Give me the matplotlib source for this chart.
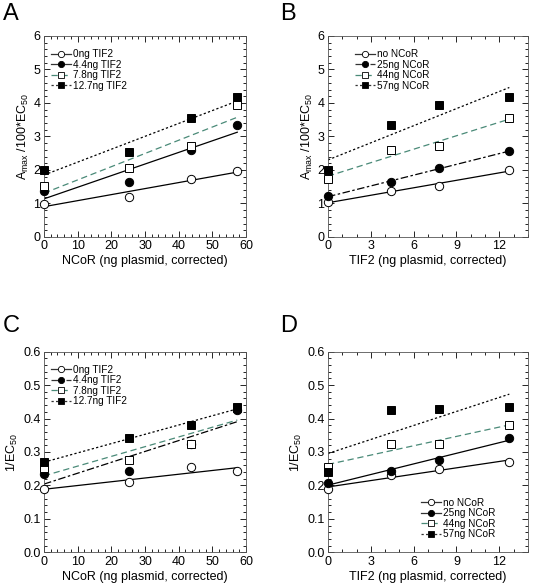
import matplotlib.pyplot as plt
import numpy as np
from matplotlib.ticker import MultipleLocator

plt.rcParams['font.family'] = ['Liberation Sans', 'DejaVu Sans']
plt.rcParams['mathtext.fontset'] = 'custom'
plt.rcParams['mathtext.rm'] = 'Liberation Sans'

# x positions (ng plasmid, corrected)
ncor_x = [0, 25.3, 43.6, 57.4]
tif_x = [0, 4.4, 7.8, 12.7]

# Panel A: Amax/100*EC50 vs NCoR
a_labels = ['0ng TIF2', '4.4ng TIF2', '7.8ng TIF2', '12.7ng TIF2']
a_0 = [0.99, 1.19, 1.73, 1.98]
a_44 = [1.36, 1.64, 2.60, 3.33]
a_78 = [1.53, 2.05, 2.71, 3.93]
a_127 = [2.00, 2.55, 3.54, 4.17]

# Panel B: Amax/100*EC50 vs TIF2
b_labels = ['no NCoR', '25ng NCoR', '44ng NCoR', '57ng NCoR']
b_0 = [1.03, 1.38, 1.53, 2.00]
b_25 = [1.21, 1.65, 2.06, 2.56]
b_44 = [1.74, 2.61, 2.71, 3.54]
b_57 = [1.99, 3.34, 3.94, 4.17]

# Panel C: 1/EC50 vs NCoR
c_0 = [0.189, 0.209, 0.254, 0.244]
c_44 = [0.233, 0.244, 0.324, 0.426]
c_78 = [0.251, 0.276, 0.324, 0.431]
c_127 = [0.271, 0.341, 0.382, 0.435]

# Panel D: 1/EC50 vs TIF2
d_0 = [0.189, 0.231, 0.249, 0.271]
d_25 = [0.206, 0.244, 0.276, 0.341]
d_44 = [0.254, 0.324, 0.324, 0.381]
d_57 = [0.241, 0.426, 0.429, 0.434]

green = '#4a8a78'
solid = '-'
dashdot = (0, (6, 2, 2, 2))
greendash = (0, (5, 3))
dotted = (0, (1.8, 1.8))

markers = [('o', 'white'), ('o', 'black'), ('s', 'white'), ('s', 'black')]


def panel(ax, x, series, labels, styles, colors, xmax, xticks, xminor,
          ymax, ystep, yminor, xlabel, ylabel, legend_loc, legend_anchor):
    handles = []
    for (y, lab, ls, col, (m, fc)) in zip(series, labels, styles, colors, markers):
        # linear regression line through the points
        p = np.polyfit(x, y, 1)
        xs = np.array([x[0], x[-1]])
        ax.plot(xs, np.polyval(p, xs), linestyle=ls, color=col, lw=0.9)
        ax.plot(x, y, linestyle='none', marker=m, mfc=fc, mec='black',
                mew=0.7, ms=6, clip_on=False, zorder=5)
        h, = ax.plot([], [], linestyle=ls, color=col if col != 'black' else '#333333',
                     lw=0.9, marker=m, mfc=fc, mec='black', mew=0.6, ms=4.5)
        handles.append(h)
    ax.set_xlim(0, xmax)
    ax.set_ylim(0, ymax)
    ax.set_xticks(xticks)
    ax.xaxis.set_minor_locator(MultipleLocator(xminor))
    ax.yaxis.set_major_locator(MultipleLocator(ystep))
    ax.yaxis.set_minor_locator(MultipleLocator(yminor))
    ax.tick_params(which='both', direction='in', top=True, right=True,
                   labelsize=9, width=0.6, pad=2.5)
    ax.tick_params(which='major', length=4)
    ax.tick_params(which='minor', length=2)
    for s in ax.spines.values():
        s.set_linewidth(0.6)
        s.set_color('#555555')
    ax.set_xlabel(xlabel, fontsize=9, labelpad=2)
    ax.set_ylabel(ylabel, fontsize=9, labelpad=2)
    ax.legend(handles, labels, loc=legend_loc, bbox_to_anchor=legend_anchor,
              frameon=False, fontsize=7.2, handlelength=2.0, handletextpad=0.2,
              labelspacing=0.05, borderpad=0.2)


fig = plt.figure(figsize=(5.33, 5.87), dpi=100)
axA = fig.add_axes([0.0826, 0.5963, 0.379, 0.3424])
axB = fig.add_axes([0.6154, 0.5963, 0.375, 0.3424])
axC = fig.add_axes([0.0826, 0.0591, 0.379, 0.3418])
axD = fig.add_axes([0.6154, 0.0591, 0.375, 0.3418])

amax_label = r'A$_{\rm max}$ /100*EC$_{50}$'
ec_label = r'1/EC$_{50}$'

panel(axA, ncor_x, [a_0, a_44, a_78, a_127], a_labels,
      [solid, solid, greendash, dotted], ['black', 'black', green, 'black'],
      60, [0, 10, 20, 30, 40, 50, 60], 2, 6, 1, 0.2,
      'NCoR (ng plasmid, corrected)', amax_label, 'upper left', (0.0, 0.97))
panel(axB, tif_x, [b_0, b_25, b_44, b_57], b_labels,
      [solid, dashdot, greendash, dotted], ['black', 'black', green, 'black'],
      14, [0, 3, 6, 9, 12], 1, 6, 1, 0.2,
      'TIF2 (ng plasmid, corrected)', amax_label, 'upper left', (0.1, 0.97))
panel(axC, ncor_x, [c_0, c_44, c_78, c_127], a_labels,
      [solid, dashdot, greendash, dotted], ['black', 'black', green, 'black'],
      60, [0, 10, 20, 30, 40, 50, 60], 2, 0.6, 0.1, 0.02,
      'NCoR (ng plasmid, corrected)', ec_label, 'upper left', (0.0, 0.97))
panel(axD, tif_x, [d_0, d_25, d_44, d_57], b_labels,
      [solid, solid, greendash, dotted], ['black', 'black', green, 'black'],
      14, [0, 3, 6, 9, 12], 1, 0.6, 0.1, 0.02,
      'TIF2 (ng plasmid, corrected)', ec_label, 'lower right', (0.87, 0.03))

# panel letters
for ax_lab, (px, py) in zip('ABCD', [(0.005, 0.977), (0.525, 0.977),
                                     (0.005, 0.444), (0.525, 0.444)]):
    fig.text(px, py, ax_lab, fontsize=17, va='center', ha='left')

fig.savefig('out.png', dpi=100)
